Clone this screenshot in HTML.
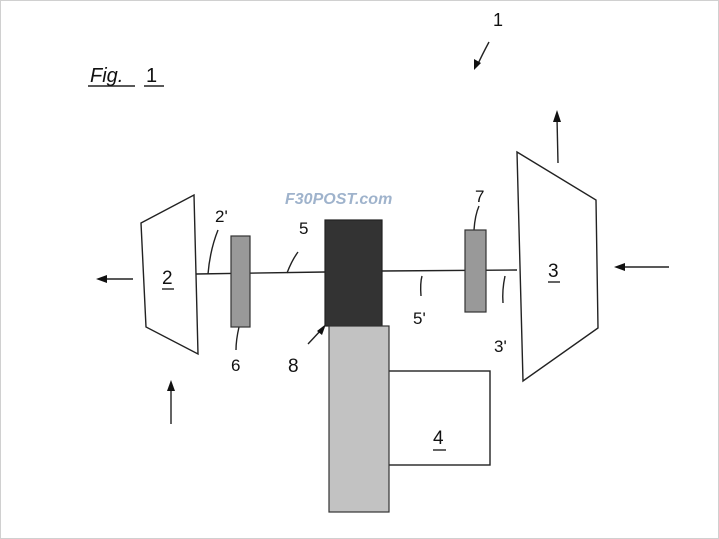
<!DOCTYPE html>
<html><head><meta charset="utf-8"><style>
html,body{margin:0;padding:0;background:#fff;}
svg{display:block;}
text{font-family:"Liberation Sans",sans-serif;fill:#111;}
</style></head><body>
<svg width="719" height="539" viewBox="0 0 719 539" xmlns="http://www.w3.org/2000/svg">
<rect x="0.5" y="0.5" width="718" height="538" fill="#fff" stroke="#d0d0d0"/>
<g stroke="#222" stroke-width="1.4" fill="none">
<!-- fig label -->
<line x1="88" y1="86" x2="135" y2="86"/><line x1="144" y1="86" x2="164" y2="86"/>
<!-- arrow 1 -->
<path d="M489 42 Q482 55 477 66"/>
<!-- left trapezoid -->
<polygon points="141,223 194,195 198,354 146,327" fill="#fff"/>
<!-- right trapezoid -->
<polygon points="517,152 596,200 598,328 523,381" fill="#fff"/>
<!-- shaft -->
<line x1="196" y1="274" x2="325" y2="272"/>
<line x1="382" y1="271" x2="517" y2="270"/>
<!-- box 4 -->
<rect x="388" y="371" width="102" height="94" fill="#fff"/>
<!-- arrows -->
<line x1="133" y1="279" x2="104" y2="279"/>
<line x1="171" y1="424" x2="171" y2="388"/>
<line x1="558" y1="163" x2="557" y2="118"/>
<line x1="669" y1="267" x2="622" y2="267"/>
<!-- leader lines -->
<path d="M208 274 Q210 250 218 230"/>
<path d="M287 273 Q292 260 298 252"/>
<path d="M239 327 Q236 340 236 350"/>
<path d="M322 329 L308 344"/>
<path d="M422 276 Q420 283 421 296"/>
<path d="M505 276 Q502 290 503 303"/>
<path d="M474 230 Q475 215 479 206"/>
</g>
<g fill="#111">
<polygon points="96,279 107,275 107,283"/>
<polygon points="171,380 167,391 175,391"/>
<polygon points="557,110 553,122 561,122"/>
<polygon points="614,267 625,263 625,271"/>
<polygon points="474,70 474,59 481,63"/>
<polygon points="326,324 317,331 322,335"/>
</g>
<!-- shaded blocks -->
<rect x="231" y="236" width="19" height="91" fill="#999" stroke="#333" stroke-width="1.2"/>
<rect x="465" y="230" width="21" height="82" fill="#999" stroke="#333" stroke-width="1.2"/>
<rect x="325" y="220" width="57" height="106" fill="#333" stroke="#222" stroke-width="1.2"/>
<rect x="329" y="326" width="60" height="186" fill="#c2c2c2" stroke="#333" stroke-width="1.2"/>
<!-- text -->
<text x="90" y="82" font-size="20" font-style="italic">Fig.</text>
<text x="146" y="82" font-size="20">1</text>
<text x="493" y="26" font-size="18">1</text>
<text x="162" y="284" font-size="19">2</text><line x1="162" y1="289" x2="174" y2="289" stroke="#222" stroke-width="1.4"/>
<text x="548" y="277" font-size="19">3</text><line x1="548" y1="282" x2="560" y2="282" stroke="#222" stroke-width="1.4"/>
<text x="433" y="444" font-size="19">4</text><line x1="433" y1="450" x2="446" y2="450" stroke="#222" stroke-width="1.4"/>
<text x="215" y="222" font-size="17">2'</text>
<text x="299" y="234" font-size="17">5</text>
<text x="413" y="324" font-size="17">5'</text>
<text x="494" y="352" font-size="17">3'</text>
<text x="231" y="371" font-size="17">6</text>
<text x="288" y="372" font-size="19">8</text>
<text x="475" y="202" font-size="17">7</text>
<text x="285" y="204" font-size="16" font-weight="bold" font-style="italic" style="fill:#9fb3cc">F30POST.com</text>
</svg>
</body></html>
